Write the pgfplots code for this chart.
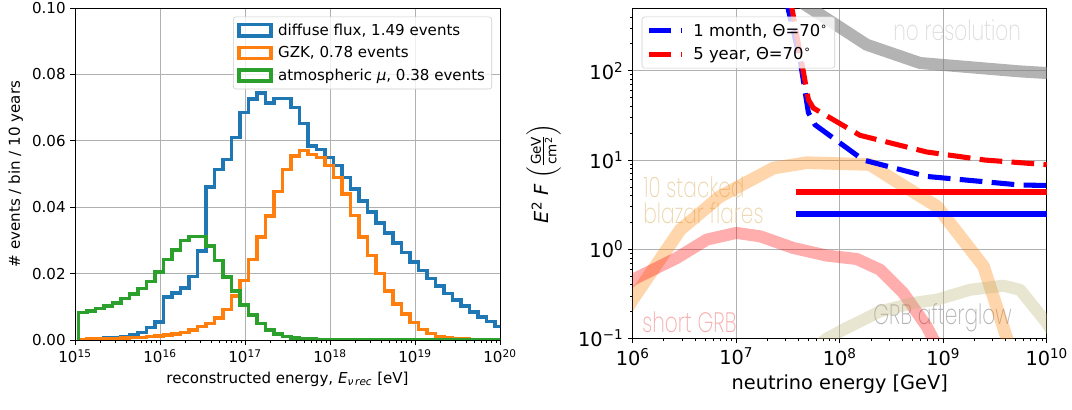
\documentclass[border=0pt]{standalone}
\usepackage{fontspec}
\setmainfont{DejaVu Sans}
\newfontfamily\annfont{Poppins}[UprightFont=* ExtraLight, FakeStretch=0.72]
\usepackage{amsmath}
\usepackage{pgfplots}
\pgfplotsset{compat=1.18}
\usepackage{pgfplotstable}

\definecolor{c0}{HTML}{1F77B4}
\definecolor{c1}{HTML}{FF7F0E}
\definecolor{c2}{HTML}{2CA02C}
\definecolor{gridc}{HTML}{B0B0B0}
\definecolor{legc}{HTML}{CCCCCC}
\definecolor{noresc}{RGB}{220,220,220}
\definecolor{blazc}{RGB}{236,212,170}
\definecolor{grbc}{RGB}{246,170,170}
\definecolor{aglowc}{RGB}{178,178,178}
\definecolor{khaki}{RGB}{190,180,120}

% bin edges 10^(15.04+0.1k); values per bin, last row repeats the last bin
\pgfplotstableread{
edge      diffuse gzk    atmo
1.0965e15 0       0      0
1.0965e15 0.0002  0.0002 0.0083
1.3804e15 0.0003  0.0003 0.0087
1.7378e15 0.0004  0.0003 0.0095
2.1878e15 0.0006  0.0004 0.0102
2.7542e15 0.0008  0.0005 0.0112
3.4674e15 0.0011  0.0006 0.0125
4.3652e15 0.0016  0.0007 0.0138
5.4954e15 0.0022  0.0008 0.0155
6.9183e15 0.0038  0.0010 0.0177
8.7096e15 0.0054  0.0012 0.0205
1.0965e16 0.0130  0.0015 0.0243
1.3804e16 0.0141  0.0018 0.0271
1.7378e16 0.0157  0.0022 0.0300
2.1878e16 0.0192  0.0030 0.0311
2.7542e16 0.0268  0.0040 0.0311
3.4674e16 0.0461  0.0050 0.0283
4.3652e16 0.0513  0.0066 0.0240
5.4954e16 0.0544  0.0092 0.0190
6.9183e16 0.0610  0.0133 0.0148
8.7096e16 0.0686  0.0180 0.0105
1.0965e17 0.0726  0.0242 0.0075
1.3804e17 0.0744  0.0310 0.0050
1.7378e17 0.0714  0.0374 0.0030
2.1878e17 0.0728  0.0448 0.0018
2.7542e17 0.0728  0.0513 0.0010
3.4674e17 0.0700  0.0554 0.0006
4.3652e17 0.0652  0.0570 0.0004
5.4954e17 0.0584  0.0559 0.0003
6.9183e17 0.0574  0.0549 0.0002
8.7096e17 0.0550  0.0525 0.0002
1.0965e18 0.0525  0.0490 0.0002
1.3804e18 0.0490  0.0440 0.0001
1.7378e18 0.0455  0.0375 0.0001
2.1878e18 0.0418  0.0310 0.0001
2.7542e18 0.0385  0.0255 0.0001
3.4674e18 0.0352  0.0200 0.0001
4.3652e18 0.0322  0.0148 0.0001
5.4954e18 0.0292  0.0108 0.0001
6.9183e18 0.0263  0.0078 0.0001
8.7096e18 0.0235  0.0053 0.0001
1.0965e19 0.0210  0.0032 0.0001
1.3804e19 0.0185  0.0019 0.0001
1.7378e19 0.0162  0.0011 0.0001
2.1878e19 0.0140  0.0007 0.0001
2.7542e19 0.0120  0.0005 0.0001
3.4674e19 0.0102  0.0003 0.0001
4.3652e19 0.0085  0.0002 0.0001
5.4954e19 0.0069  0.0002 0.0001
6.9183e19 0.0055  0.0001 0.0001
8.7096e19 0.0040  0.0001 0.0001
1.0965e20 0.0040  0.0001 0.0001
}\histdata

\pgfplotsset{
  common/.style={
    scale only axis,
    grid=major, major grid style={gridc, line width=0.6pt},
    tick align=outside, tick pos=left,
    major tick length=3.5pt, minor tick length=2pt,
    tick style={black, line width=0.6pt},
    axis line style={line width=0.6pt},
  },
}
\tikzset{ann/.style={anchor=base west, inner sep=0pt, font=\annfont\fontsize{21}{23}\selectfont}}

\begin{document}
\begin{tikzpicture}
\path[use as bounding box] (-56.25pt,-52.5pt) rectangle (747.75pt,255pt);

\begin{axis}[common,
  width=318.75pt, height=249pt,
  xmode=log, xmin=1e15, xmax=1e20, ymin=0, ymax=0.1,
  xtick={1e15,1e16,1e17,1e18,1e19,1e20},
  xticklabels={10\textsuperscript{15},10\textsuperscript{16},10\textsuperscript{17},10\textsuperscript{18},10\textsuperscript{19},10\textsuperscript{20}},
  minor xtick={2e15,3e15,4e15,5e15,6e15,7e15,8e15,9e15,
               2e16,3e16,4e16,5e16,6e16,7e16,8e16,9e16,
               2e17,3e17,4e17,5e17,6e17,7e17,8e17,9e17,
               2e18,3e18,4e18,5e18,6e18,7e18,8e18,9e18,
               2e19,3e19,4e19,5e19,6e19,7e19,8e19,9e19},
  ytick={0,0.02,0.04,0.06,0.08,0.1},
  yticklabel style={/pgf/number format/.cd, fixed, fixed zerofill, precision=2},
  /pgf/number format/assume math mode=true,
  tick label style={font=\fontsize{11.3}{13}\selectfont},
  label style={font=\fontsize{11.3}{13}\selectfont},
  xlabel={reconstructed energy, \textit{E}\textsubscript{\textit{ν\,rec}} [eV]},
  ylabel={\# events / bin / 10 years},
  legend style={at={(1,1)}, anchor=north east, xshift=-6pt, yshift=-6.5pt,
    draw=legc, rounded corners=2pt, fill=white, fill opacity=0.8,
    text opacity=1, draw opacity=1,
    font=\fontsize{11.3}{13}\selectfont, row sep=3pt, inner sep=3pt,
    /tikz/every odd column/.append style={column sep=2pt}},
  legend cell align=left,
  legend image code/.code={\draw[#1, line width=2.6pt, sharp corners] (0pt,-4.2pt) rectangle (24pt,4.2pt);},
]
\addplot[c0, line width=2.6pt, const plot mark left] table[x=edge, y=diffuse] {\histdata};
\addlegendentry{diffuse flux, 1.49 events}
\addplot[c1, line width=2.6pt, const plot mark left] table[x=edge, y=gzk] {\histdata};
\addlegendentry{GZK, 0.78 events}
\addplot[c2, line width=2.6pt, const plot mark left] table[x=edge, y=atmo] {\histdata};
\addlegendentry{atmospheric \textit{μ}, 0.38 events}
\end{axis}

\begin{axis}[common,
  at={(418.3pt,1pt)},
  width=310.5pt, height=247.8pt,
  xmode=log, ymode=log, xmin=1e6, xmax=1e10, ymin=0.1, ymax=500,
  xtick={1e6,1e7,1e8,1e9,1e10},
  xticklabels={10\textsuperscript{6},10\textsuperscript{7},10\textsuperscript{8},10\textsuperscript{9},10\textsuperscript{10}},
  minor xtick={2e6,3e6,4e6,5e6,6e6,7e6,8e6,9e6,
               2e7,3e7,4e7,5e7,6e7,7e7,8e7,9e7,
               2e8,3e8,4e8,5e8,6e8,7e8,8e8,9e8,
               2e9,3e9,4e9,5e9,6e9,7e9,8e9,9e9},
  ytick={0.1,1,10,100},
  yticklabels={10\textsuperscript{−1},10\textsuperscript{0},10\textsuperscript{1},10\textsuperscript{2}},
  minor ytick={0.2,0.3,0.4,0.5,0.6,0.7,0.8,0.9,2,3,4,5,6,7,8,9,
               20,30,40,50,60,70,80,90,200,300,400},
  tick label style={font=\fontsize{14.5}{16}\selectfont},
  label style={font=\fontsize{14.5}{16}\selectfont},
  xlabel={neutrino energy [GeV]},
  ylabel={\textit{E}\textsuperscript{2} \textit{F} $\left(\frac{\text{GeV}}{\text{cm}^{\text{2}}}\right)$},
  ylabel shift=6pt,
  legend style={at={(0,1)}, anchor=north west, xshift=6.75pt, yshift=-6.3pt,
    draw=legc, rounded corners=2pt, fill=white, fill opacity=0.8,
    text opacity=1, draw opacity=1,
    font=\fontsize{12.3}{14}\selectfont, row sep=3pt, inner sep=3pt,
    /tikz/every odd column/.append style={column sep=5pt}},
  legend cell align=left,
  legend image code/.code={\draw[#1] (0pt,0pt) -- (24.75pt,0pt);},
]
% labels sit under the bands
\node[ann, text=noresc] at (axis cs:3.28e8,219) {no resolution};
\node[ann, text=blazc] at (axis cs:1.26e6,3.85) {10 stacked};
\node[ann, text=blazc] at (axis cs:1.26e6,1.96) {blazar flares};
\node[ann, text=grbc] at (axis cs:1.23e6,0.116) {short GRB};
\node[ann, text=aglowc] at (axis cs:2.1e8,0.143) {GRB afterglow};

% no resolution
\addplot[forget plot, gray, draw opacity=0.6, line width=9pt, line join=round] coordinates {
  (3.84e7,631) (1.82e8,195.4) (5.97e8,121.9) (5.52e9,98.2) (1e10,94.2) (1.26e10,93.3)};
% 10 stacked blazar flares
\addplot[forget plot, orange, draw opacity=0.33, line width=9.5pt, line join=round] coordinates {
  (7.94e5,0.178) (1e6,0.275) (2.88e6,1.66) (6.92e6,3.89) (2.29e7,8.13) (4.79e7,9.33)
  (1.95e8,8.91) (3.31e8,6.03) (8.71e8,3.02) (2.45e9,0.646) (4.07e9,0.105) (5.62e9,0.0316)};
% short GRB
\addplot[forget plot, red, draw opacity=0.32, line width=9pt, line join=round] coordinates {
  (7.94e5,0.355) (1e6,0.457) (2.66e6,0.80) (5.19e6,1.285) (1e7,1.528) (1.70e7,1.40)
  (3.55e7,1.037) (7.48e7,0.851) (1.46e8,0.78) (2.45e8,0.592) (4.12e8,0.324)
  (6.92e8,0.137) (9.33e8,0.0708)};
% GRB afterglow
\addplot[forget plot, khaki, draw opacity=0.35, line width=9pt, line join=round] coordinates {
  (3.98e7,0.0562) (7.48e7,0.1) (1.08e8,0.126) (2.45e8,0.202) (5.13e8,0.251)
  (8.65e8,0.273) (1.82e9,0.353) (3.80e9,0.392) (5.52e9,0.353) (1e10,0.150) (1.26e10,0.1)};

\addplot[blue, line width=3.8pt, dash pattern=on 17pt off 7pt] coordinates {
  (3.02e7,631) (4.14e7,132) (4.98e7,33.9) (5.77e7,24.8) (1.69e8,10.0)
  (6.93e8,6.55) (5.52e9,5.25) (1e10,5.19)};
\addlegendentry{1 month, Θ=70\textsuperscript{∘}}
\addplot[red, line width=3.8pt, dash pattern=on 17pt off 7pt] coordinates {
  (3.33e7,631) (4.98e7,47.3) (5.56e7,38.2) (1.57e8,18.9) (6.93e8,12.3)
  (2.51e9,10.0) (1e10,8.87)};
\addlegendentry{5 year, Θ=70\textsuperscript{∘}}
\addplot[forget plot, red, line width=4.5pt] coordinates {(3.76e7,4.40) (1e10,4.40)};
\addplot[forget plot, blue, line width=4.5pt] coordinates {(3.76e7,2.47) (1e10,2.47)};
\end{axis}
\end{tikzpicture}
\end{document}
